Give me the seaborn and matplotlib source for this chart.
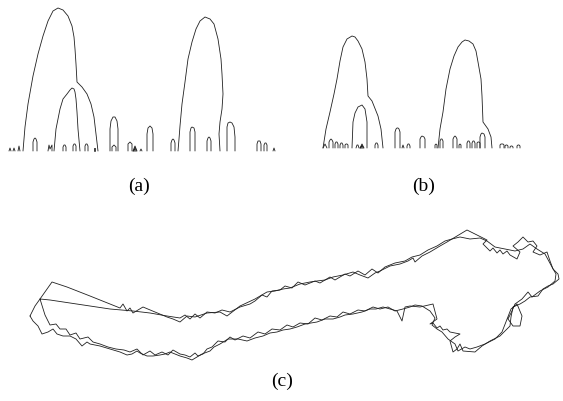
import matplotlib
matplotlib.use("Agg")
import matplotlib.pyplot as plt
import seaborn as sns
import pandas as pd

# ---- panel (a): traced outlines (pixel coordinates of the drawing) ----
a_arch1_x = [23, 24, 25, 28, 33, 38, 43, 48, 53, 58, 63, 68, 72, 74, 75, 76, 77, 82, 87, 91, 94, 96, 98]
a_arch1_y = [152, 140, 128, 105, 77, 55, 37, 22, 12, 9, 11, 17, 27, 38, 50, 65, 83, 88, 95, 105, 118, 135, 152]
a_inner_x = [54, 56, 60, 63, 67, 70, 72, 74, 75, 76, 77, 78, 80]
a_inner_y = [152, 130, 110, 100, 95, 91, 89, 90, 93, 100, 113, 130, 152]
a_arch2_x = [178, 179, 180, 182, 185, 188, 192, 196, 200, 205, 210, 214, 218, 221, 222, 223, 222, 220, 219, 220]
a_arch2_y = [152, 140, 127, 105, 83, 60, 43, 30, 22, 18, 20, 25, 40, 60, 75, 95, 110, 123, 135, 152]
a_bumps = [
    ([9, 10, 11], [152, 149, 152]),
    ([13, 14, 15], [152, 149, 152]),
    ([18, 19, 20], [152, 147, 152]),
    ([33, 33, 34, 35, 36, 37, 37], [152, 143, 140, 139, 140, 143, 152]),
    ([48, 49, 50, 51, 52, 52], [152, 146, 150, 148, 146, 152]),
    ([63, 63, 64, 65, 66, 66], [152, 148, 146, 146, 148, 152]),
    ([73, 73, 74, 75, 76, 76], [152, 147, 145, 145, 147, 152]),
    ([85, 85, 86, 87, 88, 88], [152, 147, 145, 145, 147, 152]),
    ([94, 94, 95, 95], [152, 149, 149, 152]),
    ([110, 110, 111, 113, 115, 117, 118, 118], [152, 130, 122, 118, 118, 122, 130, 152]),
    ([112, 112, 114, 116, 116], [152, 148, 146, 148, 152]),
    ([128, 128, 130, 132, 132], [152, 145, 143, 145, 152]),
    ([133, 135, 137, 133], [152, 147, 152, 152]),
    ([134, 135, 136, 134], [151, 148, 151, 151]),
    ([140, 141, 142], [152, 150, 152]),
    ([147, 147, 148, 150, 152, 153, 153], [152, 135, 129, 127, 129, 135, 152]),
    ([171, 171, 172, 173, 174, 175, 175], [152, 144, 141, 140, 141, 144, 152]),
    ([190, 190, 191, 192, 194, 195, 195], [152, 133, 129, 128, 129, 133, 152]),
    ([207, 207, 208, 209, 210, 211, 211], [152, 142, 139, 138, 139, 142, 152]),
    ([227, 227, 228, 230, 232, 234, 235, 235], [152, 128, 124, 123, 124, 128, 138, 152]),
    ([257, 257, 258, 259, 260, 261, 261], [152, 145, 142, 142, 142, 145, 152]),
    ([264, 264, 265, 266, 267, 267], [152, 146, 144, 144, 146, 152]),
    ([273, 274, 275], [152, 149, 152]),
]

# ---- panel (b) ----
b_arch1_x = [323, 326, 330, 334, 337, 340, 343, 347, 352, 355, 358, 362, 365, 367, 368, 372, 378, 381, 383]
b_arch1_y = [149, 130, 113, 95, 80, 62, 48, 40, 37, 38, 42, 50, 63, 80, 97, 102, 117, 130, 149]
b_inner_x = [352, 353, 355, 358, 362, 365, 367, 367]
b_inner_y = [149, 123, 114, 108, 106, 110, 123, 149]
b_arch2_x = [438, 440, 443, 446, 450, 454, 458, 462, 465, 469, 473, 476, 478, 481, 482, 483, 488, 491, 492]
b_arch2_y = [149, 130, 113, 90, 70, 57, 48, 43, 41, 42, 45, 52, 63, 80, 97, 123, 130, 138, 149]
b_bumps = [
    ([323, 325, 327], [149, 145, 149]),
    ([329, 329, 330, 331, 332, 333, 333], [149, 143, 141, 140, 141, 143, 149]),
    ([335, 335, 336, 337, 338, 338], [149, 145, 143, 143, 145, 149]),
    ([340, 340, 341, 342, 343, 343], [149, 146, 144, 144, 146, 149]),
    ([345, 345, 346, 347, 348, 348], [149, 146, 145, 145, 146, 149]),
    ([356, 357, 358, 359], [149, 146, 146, 149]),
    ([360, 362, 364, 360], [149, 145, 149, 149]),
    ([361, 362, 363, 361], [148, 146, 148, 148]),
    ([375, 375, 376, 377, 378, 378], [149, 146, 144, 144, 146, 149]),
    ([395, 395, 396, 397, 398, 399, 400, 400], [149, 133, 130, 129, 129, 130, 133, 149]),
    ([402, 403, 404], [149, 146, 149]),
    ([407, 407, 408, 409, 410, 410], [149, 147, 145, 145, 147, 149]),
    ([420, 420, 421, 422, 424, 425, 425], [149, 140, 138, 137, 138, 140, 149]),
    ([435, 435, 436, 437, 437], [149, 146, 145, 146, 149]),
    ([440, 440, 441, 442, 443, 443], [149, 142, 140, 140, 142, 149]),
    ([453, 453, 454, 455, 456, 457, 457], [149, 140, 138, 137, 138, 140, 149]),
    ([459, 459, 460, 461, 461], [149, 146, 145, 146, 149]),
    ([467, 467, 468, 469, 470, 470], [149, 144, 142, 142, 144, 149]),
    ([472, 472, 473, 474, 475, 475], [149, 144, 142, 142, 144, 149]),
    ([477, 477, 478, 479, 480, 480], [149, 144, 143, 143, 144, 149]),
    ([480, 480, 481, 482, 484, 485, 485], [149, 138, 135, 134, 135, 138, 149]),
    ([500, 500, 501, 502, 503, 504, 504], [149, 146, 145, 145, 145, 146, 149]),
    ([505, 505, 506, 507, 508, 508], [149, 147, 146, 146, 147, 149]),
    ([510, 510, 511, 512, 513, 513], [149, 148, 147, 147, 148, 149]),
    ([517, 517, 518, 519, 520, 520], [149, 147, 146, 146, 147, 149]),
]

# ---- panel (c): two overlaid contours ----
c1_x = [30, 35, 40, 52, 67, 90, 120, 123, 127, 130, 133, 143, 155, 167, 173, 180, 187, 195, 207, 220, 227, 240,
        255, 267, 275, 283, 290, 300, 310, 317, 325, 333, 343, 353, 360, 368, 375, 380, 390, 400, 408, 413, 415,
        422, 430, 440, 447, 457, 467, 477, 487, 483, 490, 493, 497, 500, 503, 507, 510, 517, 520, 513, 518, 523,
        528, 533, 537, 533, 540, 547, 550, 553, 558, 559, 553, 548, 543, 538, 530, 525, 520, 513, 511, 510, 505,
        500, 490, 482, 475, 463, 460, 457, 453, 450, 455, 460, 450, 447, 443, 440, 437, 433, 430, 437, 433, 420,
        410, 405, 402, 397, 390, 383, 376, 370, 362, 353, 345, 340, 333, 325, 317, 305, 297, 290, 283, 277, 270,
        263, 255, 247, 238, 228, 220, 214, 210, 202, 197, 192, 187, 180, 175, 170, 165, 160, 153, 147, 140, 137,
        132, 127, 120, 110, 100, 90, 87, 82, 76, 70, 63, 57, 53, 48, 42, 38, 33, 30]
c1_y = [317, 307, 300, 283, 288, 297, 309, 305, 312, 309, 314, 308, 313, 318, 320, 323, 317, 318, 314, 313, 317, 307,
        300, 293, 292, 290, 289, 285, 283, 282, 281, 278, 276, 273, 276, 279, 274, 272, 267, 265, 262, 259, 263,
        257, 253, 247, 243, 237, 231, 236, 241, 245, 252, 249, 254, 251, 255, 252, 256, 260, 253, 247, 243, 238,
        243, 242, 247, 253, 256, 253, 262, 270, 275, 280, 285, 287, 290, 297, 298, 302, 305, 308, 318, 327, 332,
        337, 342, 347, 353, 352, 345, 350, 353, 342, 338, 335, 333, 330, 331, 327, 329, 324, 325, 320, 305, 308,
        307, 308, 322, 312, 310, 308, 310, 310, 313, 315, 316, 318, 320, 320, 323, 325, 328, 330, 331, 333, 334,
        337, 339, 342, 340, 340, 345, 348, 352, 355, 358, 361, 359, 357, 355, 353, 355, 356, 357, 357, 354, 352,
        355, 356, 353, 350, 347, 345, 343, 347, 340, 337, 337, 335, 330, 333, 335, 327, 322, 317]
c2_x = [40, 50, 70, 90, 110, 133, 150, 167, 180, 185, 190, 195, 200, 207, 215, 222, 230, 240, 250, 255, 262, 267,
        272, 280, 285, 292, 298, 305, 315, 320, 330, 335, 345, 350, 358, 365, 372, 378, 385, 395, 405, 412, 420,
        428, 437, 445, 452, 460, 470, 480, 487, 495, 505, 515, 523, 530, 537, 545, 552, 556, 555, 548, 540, 532,
        528, 522, 515, 512, 508, 513, 520, 522, 517, 511, 502, 495, 485, 477, 470, 465, 458, 455, 448, 442, 437,
        432, 435, 430, 422, 415, 410, 403, 395, 388, 380, 373, 365, 358, 350, 343, 337, 330, 322, 315, 308, 300,
        293, 287, 280, 272, 265, 258, 250, 243, 235, 230, 225, 218, 212, 207, 203, 198, 195, 190, 185, 180, 173,
        168, 162, 155, 150, 143, 137, 130, 124, 116, 108, 100, 93, 88, 80, 76, 70, 66, 60, 56, 50, 45, 40]
c2_y = [300, 301, 304, 307, 310, 312, 314, 317, 319, 316, 320, 315, 319, 313, 314, 311, 313, 308, 305, 302, 296, 298,
        292, 291, 287, 289, 283, 286, 282, 284, 278, 281, 275, 277, 272, 276, 270, 274, 268, 264, 262, 258, 256,
        251, 247, 242, 240, 238, 240, 239, 242, 248, 250, 252, 250, 245, 250, 255, 268, 275, 282, 288, 292, 298,
        293, 300, 305, 312, 320, 327, 327, 317, 305, 310, 333, 340, 345, 348, 350, 348, 352, 345, 340, 333, 330,
        326, 319, 312, 307, 306, 308, 310, 312, 308, 310, 308, 312, 311, 315, 313, 318, 317, 321, 319, 325, 324,
        328, 326, 331, 330, 335, 333, 339, 337, 341, 338, 343, 342, 348, 350, 355, 357, 354, 358, 356, 355, 351,
        356, 353, 356, 352, 356, 350, 353, 351, 350, 348, 345, 343, 338, 340, 334, 336, 330, 330, 325, 326, 316, 300]

labels = ["(a)", "(b)", "(c)"]
label_x = [139, 424, 282]
label_y = [186, 186, 381]

# ---- assemble ----
segs = [(a_arch1_x, a_arch1_y), (a_inner_x, a_inner_y), (a_arch2_x, a_arch2_y)] + a_bumps
segs += [(b_arch1_x, b_arch1_y), (b_inner_x, b_inner_y), (b_arch2_x, b_arch2_y)] + b_bumps
segs += [(c1_x, c1_y), (c2_x, c2_y)]
rows = []
for i, (xs, ys) in enumerate(segs):
    for k, (x, y) in enumerate(zip(xs, ys)):
        rows.append({"seg": i, "order": k, "x": x, "y": y})
df = pd.DataFrame(rows)

sns.set_theme(style="white")
plt.rcParams["font.family"] = ["Liberation Serif", "DejaVu Serif"]
fig = plt.figure(figsize=(5.63, 4.02), dpi=100)
ax = fig.add_axes([0, 0, 1, 1])
sns.lineplot(data=df, x="x", y="y", units="seg", estimator=None, sort=False,
             color="#202020", linewidth=0.6, ax=ax, legend=False)
for t, x, y in zip(labels, label_x, label_y):
    ax.text(x, y, t, ha="center", va="center", fontsize=14, color="black")
ax.set_xlim(0, 563)
ax.set_ylim(402, 0)
ax.axis("off")
fig.savefig("out.png", dpi=100, facecolor="white")
